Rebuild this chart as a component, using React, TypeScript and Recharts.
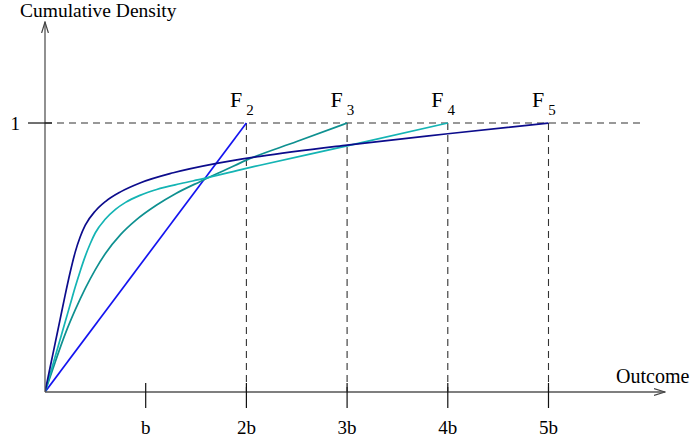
import React from 'react';
import { ComposedChart, Line, XAxis, YAxis, ReferenceLine, Scatter } from 'recharts';

const X_TICKS = [1, 2, 3, 4, 5];
const X_TICK_LABELS = ['b', '2b', '3b', '4b', '5b'];
const Y_TICKS = [1];
const Y_TICK_LABELS = ['1'];

const F2_X = [0, 2];
const F2_Y = [0, 1];

const F3_X = [0, 0.1, 0.2, 0.3, 0.4, 0.5, 0.6, 0.75, 0.9, 1.109, 1.3, 1.539, 1.804, 2.0, 2.5, 3];
const F3_Y = [0, 0.11, 0.215, 0.305, 0.385, 0.455, 0.515, 0.585, 0.638, 0.695, 0.738, 0.782, 0.828, 0.862, 0.931, 1];

const F4_X = [0, 0.05, 0.1, 0.15, 0.2, 0.25, 0.3, 0.35, 0.4, 0.45, 0.5, 0.6, 0.7, 0.8, 0.943, 1.109, 1.35, 1.572, 1.936, 2.135, 3, 4];
const F4_Y = [0, 0.065, 0.13, 0.195, 0.26, 0.325, 0.39, 0.45, 0.505, 0.552, 0.592, 0.643, 0.679, 0.705, 0.731, 0.753, 0.775, 0.793, 0.826, 0.843, 0.915, 1];

const F5_X = [0, 0.05, 0.1, 0.15, 0.2, 0.25, 0.3, 0.35, 0.4, 0.5, 0.6, 0.75, 0.943, 1.274, 1.705, 2.135, 3, 4, 5];
const F5_Y = [0, 0.09, 0.18, 0.27, 0.36, 0.445, 0.52, 0.577, 0.62, 0.673, 0.708, 0.744, 0.777, 0.815, 0.85, 0.876, 0.918, 0.96, 1];

const CURVE_NAMES = ['2', '3', '4', '5'];
const CURVE_ENDS = [2, 3, 4, 5];

const X_MAX = 6.157;
const Y_MAX = 1.3755;
const DASH_END = 5.94;

const zip = (xs: number[], ys: number[]) => xs.map((x, i) => ({ x, y: ys[i] }));

const f2 = zip(F2_X, F2_Y);
const f3 = zip(F3_X, F3_Y);
const f4 = zip(F4_X, F4_Y);
const f5 = zip(F5_X, F5_Y);
const labelPts = CURVE_ENDS.map((x, i) => ({ x, y: 1, n: CURVE_NAMES[i] }));

const FONT = "'Liberation Serif', 'DejaVu Serif', serif";

const XTick = (p: any) => {
  const { x, y, payload } = p;
  const label = X_TICK_LABELS[X_TICKS.indexOf(payload.value)];
  return (
    <g>
      <line x1={x} x2={x} y1={y - 9} y2={y + 16} stroke="#111" strokeWidth={1.2} />
      <text x={x} y={y + 42} textAnchor="middle" fontFamily={FONT} fontSize={19} fill="#000">
        {label}
      </text>
    </g>
  );
};

const YTick = (p: any) => {
  const { x, y, payload } = p;
  const label = Y_TICK_LABELS[Y_TICKS.indexOf(payload.value)];
  return (
    <g>
      <line x1={x - 17} x2={x + 7} y1={y} y2={y} stroke="#111" strokeWidth={1.2} />
      <text x={x - 25} y={y + 7} textAnchor="end" fontFamily={FONT} fontSize={19} fill="#000">
        {label}
      </text>
    </g>
  );
};

const FLabel = (p: any) => {
  const { cx, cy, payload } = p;
  return (
    <text x={cx - 16.5} y={cy - 16.5} fontFamily={FONT} fontSize={22} fill="#000">
      F
      <tspan dx={4} dy={8} fontSize={15}>
        {payload.n}
      </tspan>
    </text>
  );
};

export default function App() {
  return (
    <div style={{ position: 'absolute', left: 0, top: 0, width: 691, height: 446, background: '#fff' }}>
      <svg width={0} height={0} style={{ position: 'absolute' }}>
        <defs>
          <marker
            id="arr"
            viewBox="0 0 12 8"
            refX={11}
            refY={4}
            markerWidth={12}
            markerHeight={8}
            markerUnits="userSpaceOnUse"
            orient="auto-start-reverse"
          >
            <path d="M0,0.6 L11,4 L0,7.4" fill="none" stroke="#444" strokeWidth={1.2} />
          </marker>
        </defs>
      </svg>
      <ComposedChart width={691} height={446} margin={{ top: 22, right: 26, bottom: 0, left: 0 }}>
        <XAxis
          type="number"
          dataKey="x"
          domain={[0, X_MAX]}
          allowDataOverflow
          ticks={X_TICKS}
          interval={0}
          tickSize={0}
          tickMargin={0}
          tickLine={false}
          height={54}
          axisLine={{ stroke: '#555', strokeWidth: 1.3, markerEnd: 'url(#arr)' } as any}
          tick={<XTick />}
          label={{
            content: (props: any) => {
              const vb = props.viewBox || { x: 45, y: 392, width: 620 };
              return (
                <text x={vb.x + vb.width - 49} y={vb.y - 9} fontFamily={FONT} fontSize={20} fill="#000">
                  Outcome
                </text>
              );
            },
          }}
        />
        <YAxis
          type="number"
          dataKey="y"
          domain={[0, Y_MAX]}
          allowDataOverflow
          ticks={Y_TICKS}
          interval={0}
          width={45}
          tickSize={0}
          tickMargin={0}
          tickLine={false}
          axisLine={{ stroke: '#555', strokeWidth: 1.3, markerStart: 'url(#arr)' } as any}
          tick={<YTick />}
          label={{
            content: (props: any) => {
              const vb = props.viewBox || { x: 0, y: 22, width: 45 };
              return (
                <text x={vb.x + vb.width - 25} y={vb.y - 5.5} fontFamily={FONT} fontSize={19.5} fill="#000">
                  Cumulative Density
                </text>
              );
            },
          }}
        />
        <ReferenceLine
          segment={[{ x: 0, y: 1 }, { x: DASH_END, y: 1 }]}
          stroke="#333"
          strokeWidth={1.1}
          strokeDasharray="7 5"
          ifOverflow="visible"
        />
        {CURVE_ENDS.map((e) => (
          <ReferenceLine
            key={e}
            segment={[{ x: e, y: 1 }, { x: e, y: 0 }]}
            stroke="#333"
            strokeWidth={1.1}
            strokeDasharray="7 5"
            ifOverflow="visible"
          />
        ))}
        <Line data={f2} dataKey="y" type="linear" stroke="#1414f0" strokeWidth={1.7} dot={false} isAnimationActive={false} />
        <Line data={f3} dataKey="y" type="monotone" stroke="#0e9090" strokeWidth={1.7} dot={false} isAnimationActive={false} />
        <Line data={f4} dataKey="y" type="monotone" stroke="#14b4b4" strokeWidth={1.7} dot={false} isAnimationActive={false} />
        <Line data={f5} dataKey="y" type="monotone" stroke="#0c0c8c" strokeWidth={1.7} dot={false} isAnimationActive={false} />
        <Scatter data={labelPts} dataKey="y" shape={<FLabel />} isAnimationActive={false} />
      </ComposedChart>
    </div>
  );
}
